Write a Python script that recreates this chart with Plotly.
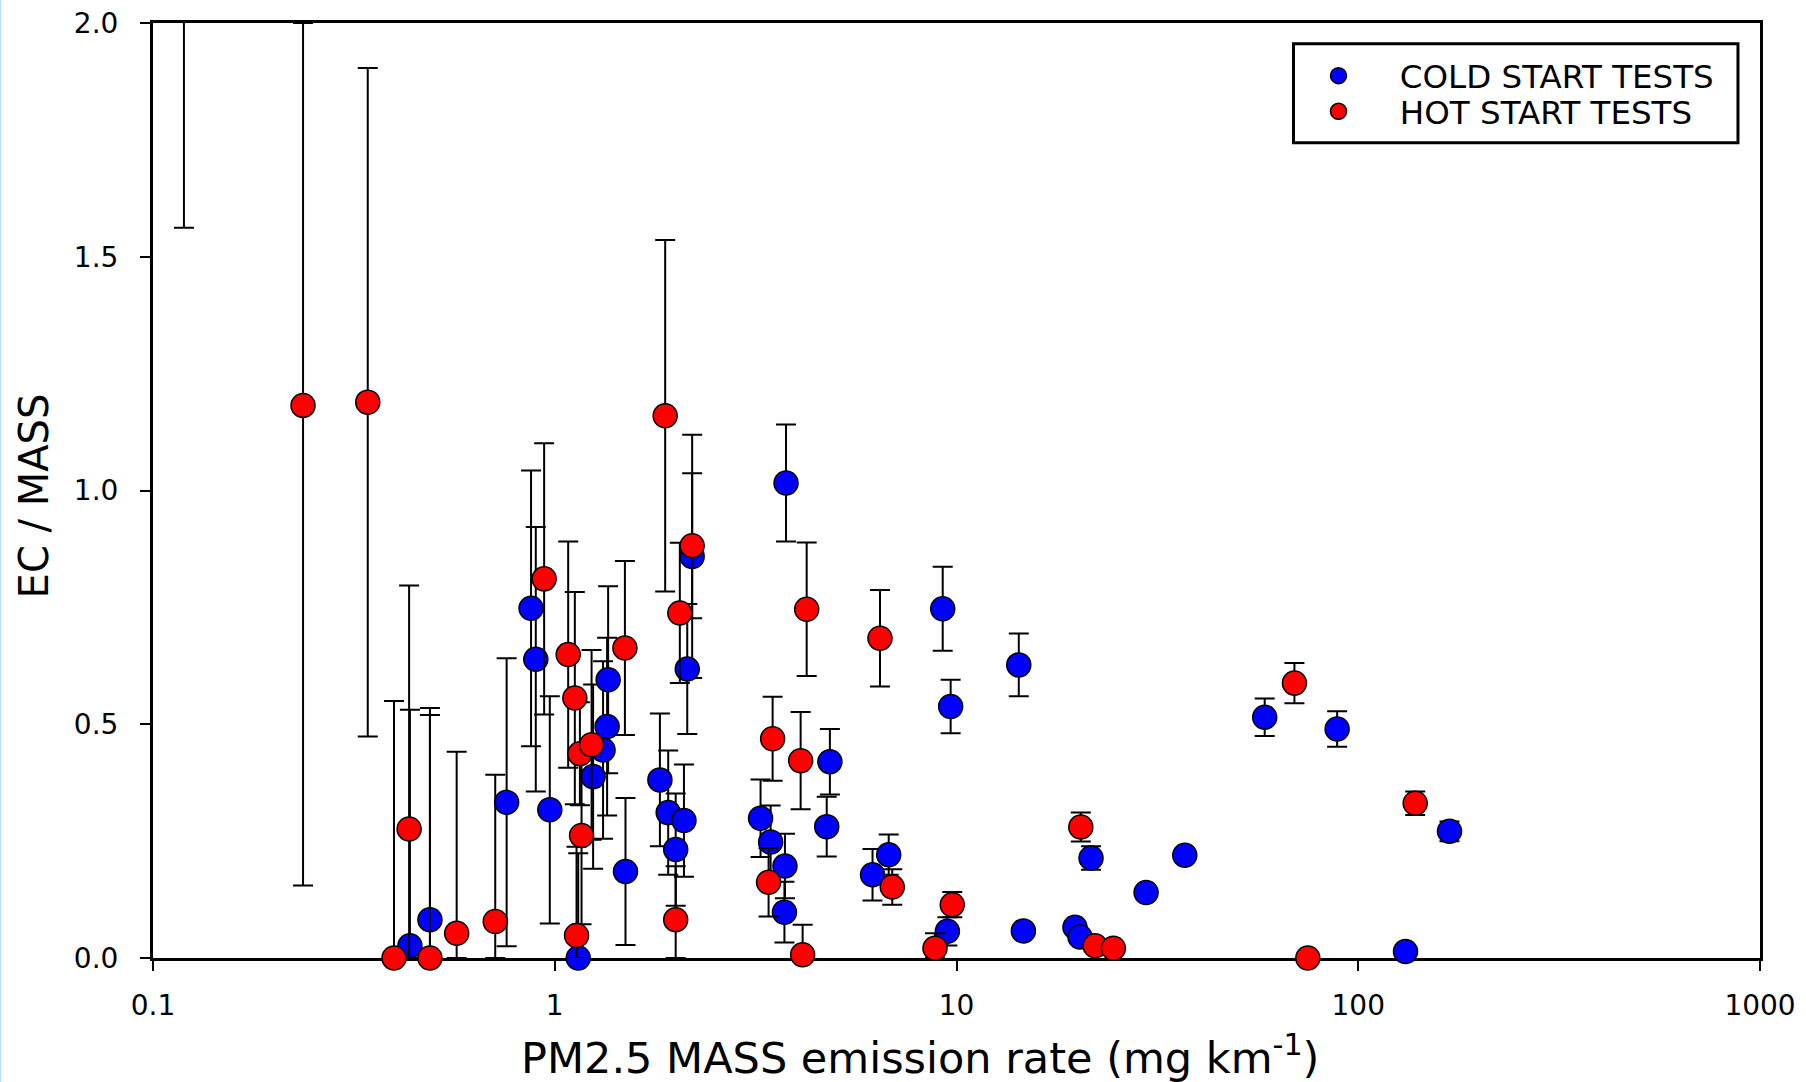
import plotly.graph_objects as go

# ---------------- data ----------------
cold_x = [0.436, 0.489, 0.759, 0.873, 0.897, 0.972, 1.144, 1.246, 1.319, 1.35, 1.358, 1.50,
          1.827, 1.916, 2.0, 2.097, 2.137, 2.198, 3.253, 3.446, 3.741, 3.73, 3.764, 4.753,
          4.84, 6.18, 6.78, 9.24, 9.67, 9.49, 14.29, 14.67, 19.72, 20.3, 21.62, 29.64,
          37.0, 58.5, 88.6, 131.1, 168.7]
cold_y = [0.026, 0.082, 0.333, 0.748, 0.639, 0.317, 0.0, 0.388, 0.445, 0.495, 0.595, 0.185,
          0.381, 0.311, 0.232, 0.294, 0.618, 0.859, 0.299, 0.248, 0.197, 0.098, 1.016, 0.281,
          0.420, 0.178, 0.221, 0.747, 0.538, 0.057, 0.627, 0.058, 0.066, 0.045, 0.214, 0.140,
          0.220, 0.515, 0.490, 0.014, 0.271]
cold_err = [0.505, 0.453, 0.308, 0.295, 0.283, 0.243, 0.224, 0.197, 0.19, 0.19, 0.2, 0.157,
            0.142, 0.133, 0.12, 0.12, 0.139, 0.26, 0.083, 0.078, 0.069, 0.065, 0.125, 0.064,
            0.07, 0.055, 0.043, 0.09, 0.057, 0.03, 0.067, 0.01, 0.008, 0.008, 0.025, 0.008,
            0.015, 0.04, 0.038, 0.005, 0.021]

hot_x = [0.2363, 0.3424, 0.398, 0.434, 0.489, 0.570, 0.711, 0.941, 1.080, 1.122, 1.155,
         1.166, 1.133, 1.235, 1.495, 1.883, 2.048, 2.198, 2.0, 3.486, 3.406, 4.237, 4.093,
         4.14, 6.45, 6.92, 8.84, 9.76, 20.39, 22.13, 24.57, 69.36, 74.9, 138.6]
hot_y = [1.182, 1.189, 0.0, 0.276, 0.0, 0.053, 0.078, 0.811, 0.649, 0.556, 0.437,
         0.262, 0.048, 0.456, 0.663, 1.160, 0.738, 0.882, 0.082, 0.469, 0.162, 0.746, 0.422,
         0.007, 0.684, 0.152, 0.021, 0.114, 0.280, 0.026, 0.021, 0.588, 0.0, 0.331]
hot_err = [1.027, 0.715, 0.55, 0.521, 0.52, 0.388, 0.314, 0.29, 0.242, 0.227, 0.11,
           0.19, 0.19, 0.203, 0.186, 0.376, 0.15, 0.155, 0.114, 0.09, 0.073, 0.143, 0.104,
           0.064, 0.103, 0.038, 0.032, 0.027, 0.031, 0.01, 0.01, 0.043, 0.005, 0.025]

# hot-start test whose marker lies above the plotted range (only its lower bar is visible)
hot_off_x = [0.1194]
hot_off_y = [2.4]
hot_off_err = [0.838]

x_tickvals = [0.1, 1, 10, 100, 1000]
x_ticktext = ["0.1", "1", "10", "100", "1000"]
y_tickvals = [0.0, 0.5, 1.0, 1.5, 2.0]
y_ticktext = ["0.0", "0.5", "1.0", "1.5", "2.0"]
Y_MIN, Y_MAX = 0.0, 2.0

x_title = "PM2.5 MASS emission rate (mg km<sup>-1</sup>)"
y_title = "EC / MASS"
cold_name = "COLD START TESTS"
hot_name = "HOT START TESTS"

FONT = "DejaVu Sans"
COLD = "#0000ff"
HOT = "#ff0000"
NB = "\u00a0"


def bars(y, err):
    plus = [min(e, Y_MAX - v) for v, e in zip(y, err)]
    minus = [min(e, v - Y_MIN) for v, e in zip(y, err)]
    return plus, minus


marker_style = dict(symbol="circle", size=24, line=dict(color="black", width=1.5))
err_style = dict(color="black", thickness=2, width=10)

fig = go.Figure()

cp, cm = bars(cold_y, cold_err)
fig.add_trace(go.Scatter(
    x=cold_x, y=cold_y, mode="markers", name=NB * 4 + cold_name,
    marker=dict(color=COLD, **marker_style),
    error_y=dict(type="data", symmetric=False, array=cp, arrayminus=cm, **err_style),
    cliponaxis=False, legend="legend",
))

hp, hm = bars(hot_y, hot_err)
fig.add_trace(go.Scatter(
    x=hot_x, y=hot_y, mode="markers", name=NB * 4 + hot_name,
    marker=dict(color=HOT, **marker_style),
    error_y=dict(type="data", symmetric=False, array=hp, arrayminus=hm, **err_style),
    cliponaxis=False, legend="legend2",
))

fig.add_trace(go.Scatter(
    x=hot_off_x, y=hot_off_y, mode="markers", showlegend=False,
    marker=dict(color=HOT, **marker_style),
    error_y=dict(type="data", array=hot_off_err, **err_style),
    cliponaxis=True,
))

legend_common = dict(
    xanchor="left", yanchor="middle",
    bgcolor="rgba(0,0,0,0)", borderwidth=0,
    font=dict(family=FONT, size=32.5, color="black"),
    indentation=25, itemsizing="trace",
)

fig.update_layout(
    width=1806, height=1082,
    margin=dict(l=153, r=46, t=23, b=124),
    paper_bgcolor="white", plot_bgcolor="white",
    font=dict(family=FONT, color="black", size=27),
    showlegend=True,
    legend=dict(x=0.7097, y=0.9433, **legend_common),
    legend2=dict(x=0.7097, y=0.9052, **legend_common),
    shapes=[
        # legend frame
        dict(type="rect", xref="paper", yref="paper",
             x0=0.7097, x1=0.9863, y0=0.8719, y1=0.9778,
             line=dict(color="black", width=3), fillcolor="rgba(0,0,0,0)", layer="above"),
        # thin light-blue page edge on the left
        dict(type="line", xref="paper", yref="paper",
             x0=-0.0951, x1=-0.0951, y0=-0.2, y1=1.05,
             line=dict(color="#b8e2fa", width=2)),
    ],
    annotations=[
        dict(text=x_title, xref="paper", yref="paper", x=0.477, y=0,
             xanchor="center", yanchor="middle", yshift=-97, showarrow=False,
             font=dict(family=FONT, size=43, color="black")),
        dict(text=y_title, xref="paper", yref="paper", x=0, y=0.4937,
             xanchor="center", yanchor="middle", xshift=-119, textangle=-90,
             showarrow=False, font=dict(family=FONT, size=40, color="black")),
    ],
)

fig.update_xaxes(
    type="log", range=[-1, 3], automargin=False,
    tickvals=x_tickvals, ticktext=x_ticktext,
    ticks="outside", ticklen=10, tickwidth=2, tickcolor="black",
    ticklabelstandoff=10,
    showline=True, linecolor="black", linewidth=3, mirror=True,
    showgrid=False, zeroline=False, layer="below traces",
    tickfont=dict(family=FONT, size=28),
)
fig.update_yaxes(
    range=[Y_MIN, Y_MAX], automargin=False,
    tickvals=y_tickvals, ticktext=y_ticktext,
    ticks="outside", ticklen=10, tickwidth=2, tickcolor="black",
    ticklabelstandoff=16,
    showline=True, linecolor="black", linewidth=3, mirror=True,
    showgrid=False, zeroline=False, layer="below traces",
    tickfont=dict(family=FONT, size=28),
)

fig.write_html("out.html", config={"displayModeBar": False},
               post_script="document.body.style.margin='0px';")
